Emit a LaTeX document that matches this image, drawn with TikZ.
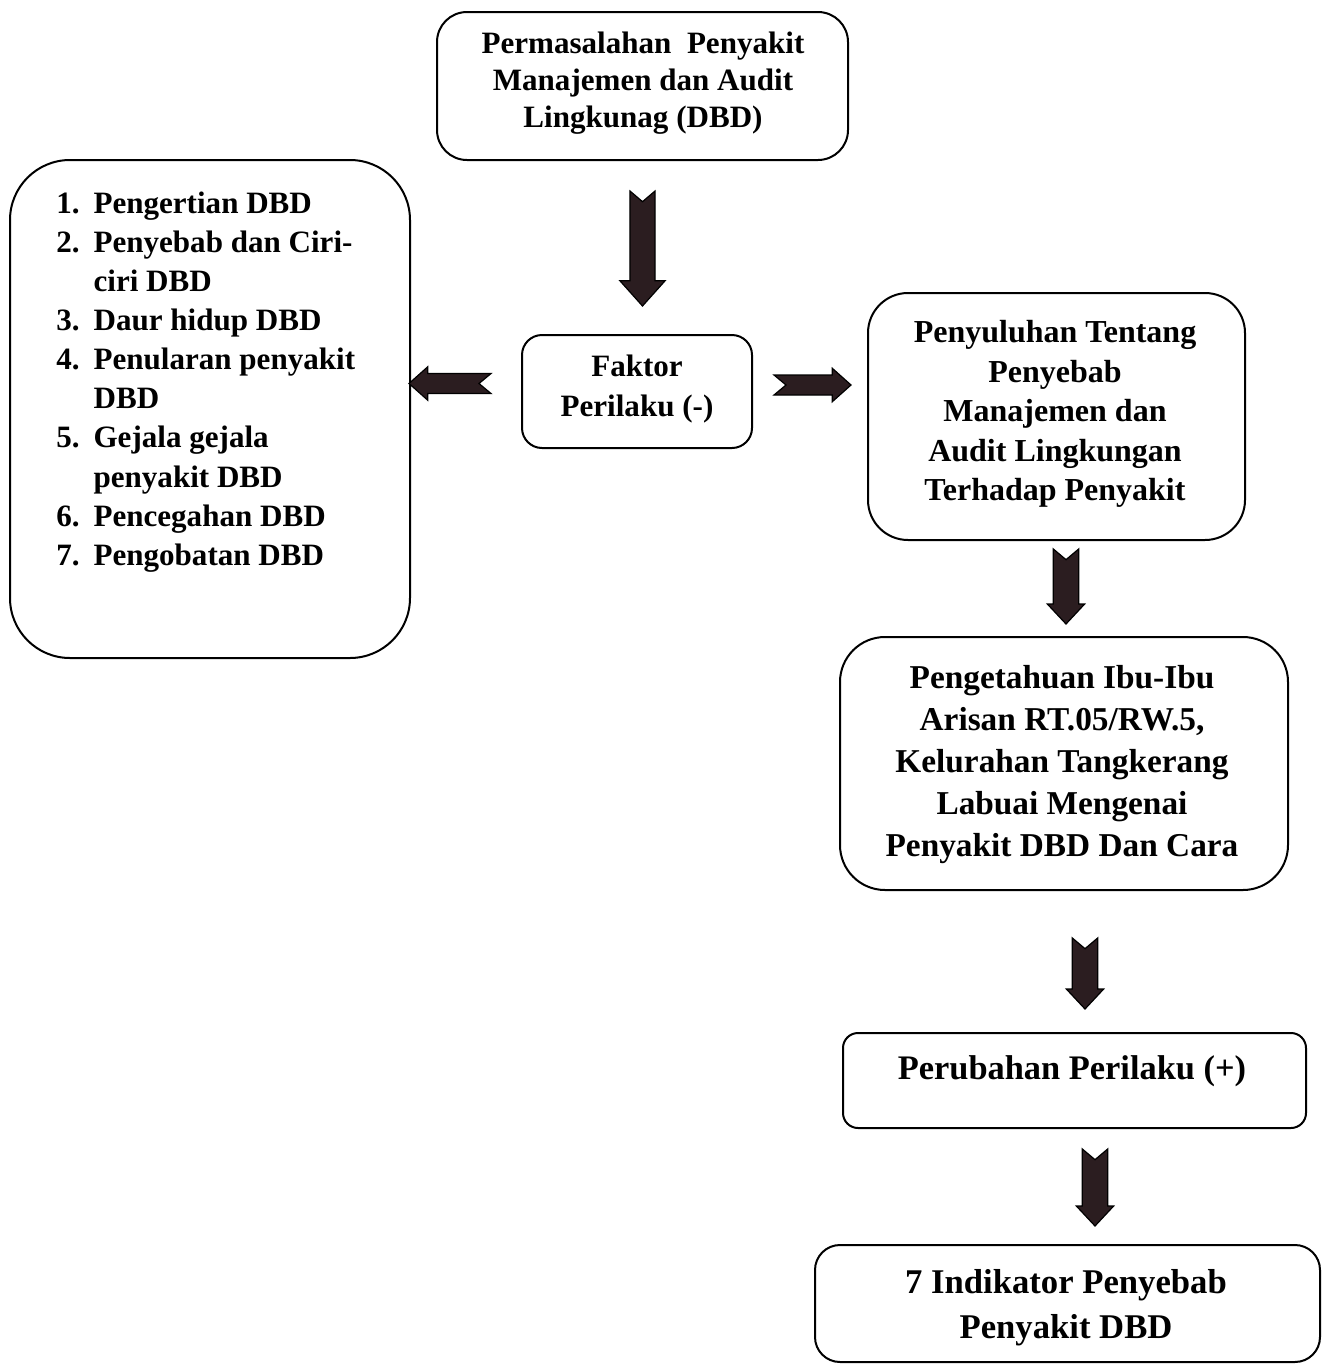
\documentclass[tikz,border=0pt]{standalone}
\usepackage{fontspec}
\setmainfont{Liberation Serif}
\usetikzlibrary{calc}
\newcommand\pxu{0.75pt}
\definecolor{arrowfill}{HTML}{2B1D20}
\tikzset{
  box/.style n args={3}{draw, line width=1.5pt, rounded corners=#3*\pxu,
    minimum width=#1*\pxu, minimum height=#2*\pxu, inner sep=0pt},
  txt/.style n args={2}{align=center, inner sep=0pt,
    font=\bfseries\fontsize{#1}{#2}\selectfont},
  blockarrow/.style n args={4}{fill=arrowfill, draw=black, line width=0.9pt, line join=miter,
    to path={let \p1=(\tikztostart), \p2=(\tikztotarget), \n1={atan2(\y2-\y1,\x2-\x1)} in
      ($(\p1)+({\n1+90}:#1)$) -- ($(\p2)+({\n1+180}:#3)+({\n1+90}:#1)$)
      -- ($(\p2)+({\n1+180}:#3)+({\n1+90}:#2)$) -- (\p2)
      -- ($(\p2)+({\n1+180}:#3)+({\n1-90}:#2)$) -- ($(\p2)+({\n1+180}:#3)+({\n1-90}:#1)$)
      -- ($(\p1)+({\n1-90}:#1)$) -- ($(\p1)+({\n1}:#4)$) -- cycle}},
}
\begin{document}
\begin{tikzpicture}[x=0.75pt, y=-0.75pt]
\useasboundingbox (0,0) rectangle (1329,1364);
% boxes
\node[box={411}{148}{30}] (b1) at (642.5,86) {};
\node[box={400}{498}{60}] (b2) at (210,409) {};
\node[box={230}{113}{20}] (b3) at (637,391.5) {};
\node[box={377}{247}{40}] (b4) at (1056.5,416.5) {};
\node[box={448}{253}{45}] (b5) at (1064,763.5) {};
\node[box={463}{95}{15}] (b6) at (1074.5,1080.5) {};
\node[box={505}{117}{25}] (b7) at (1067.5,1303.5) {};
% texts
\node[txt={23.3}{28}] (t1) at (643,83) {Permasalahan\ \ Penyakit\\Manajemen dan Audit\\Lingkunag (DBD)};
\node[txt={23.3}{29.3}, align=left, anchor=west] (t2) at (56,382) {%
\makebox[28pt][l]{1.}Pengertian DBD\\
\makebox[28pt][l]{2.}Penyebab dan Ciri-\\
\makebox[28pt][l]{}ciri DBD\\
\makebox[28pt][l]{3.}Daur hidup DBD\\
\makebox[28pt][l]{4.}Penularan penyakit\\
\makebox[28pt][l]{}DBD\\
\makebox[28pt][l]{5.}Gejala gejala\\
\makebox[28pt][l]{}penyakit DBD\\
\makebox[28pt][l]{6.}Pencegahan DBD\\
\makebox[28pt][l]{7.}Pengobatan DBD};
\node[txt={23.3}{29.3}] (t3) at (637,389) {Faktor\\Perilaku (-)};
\node[txt={24}{29.6}] (t4) at (1055,414) {Penyuluhan Tentang\\Penyebab\\Manajemen dan\\Audit Lingkungan\\Terhadap Penyakit};
\node[txt={25}{31.5}] (t5) at (1062,765) {Pengetahuan Ibu-Ibu\\Arisan RT.05/RW.5,\\Kelurahan Tangkerang\\Labuai Mengenai\\Penyakit DBD Dan Cara};
\node[txt={25.8}{31}] (t6) at (1072,1071) {Perubahan Perilaku (+)};
\node[txt={26}{34}] (t7) at (1066,1308) {7 Indikator Penyebab\\Penyakit DBD};
% arrow end points
\coordinate (a1s) at ($(b1.south)+(0,30)$);
\coordinate (a1e) at ($(b1.south |- b3.north)+(0,-28)$);
\coordinate (a2s) at ($(b3.west)+(-30,-8)$);
\coordinate (a2e) at ($(b3.west)+(-112,-8)$);
\coordinate (a3s) at ($(b3.east)+(21,-6.5)$);
\coordinate (a3e) at ($(b3.east)+(98,-6.5)$);
\coordinate (a4s) at ($(b4.south)+(9.5,8)$);
\coordinate (a4e) at ($(b4.south)+(9.5,83)$);
\coordinate (a5s) at ($(b5.south)+(21,47)$);
\coordinate (a5e) at ($(b5.south)+(21,118)$);
\coordinate (a6s) at ($(b6.south)+(20.5,20)$);
\coordinate (a6e) at ($(b6.south)+(20.5,97)$);
% arrows
\draw[blockarrow={9.4pt}{17pt}{19pt}{8pt}] (a1s) to (a1e);
\draw[blockarrow={7.5pt}{12.5pt}{14pt}{9pt}] (a2s) to (a2e);
\draw[blockarrow={7.5pt}{12.5pt}{14pt}{9pt}] (a3s) to (a3e);
\draw[blockarrow={9.5pt}{14pt}{15pt}{8pt}] (a4s) to (a4e);
\draw[blockarrow={9.5pt}{14pt}{15pt}{8pt}] (a5s) to (a5e);
\draw[blockarrow={9.5pt}{14pt}{15pt}{8pt}] (a6s) to (a6e);
\end{tikzpicture}
\end{document}
